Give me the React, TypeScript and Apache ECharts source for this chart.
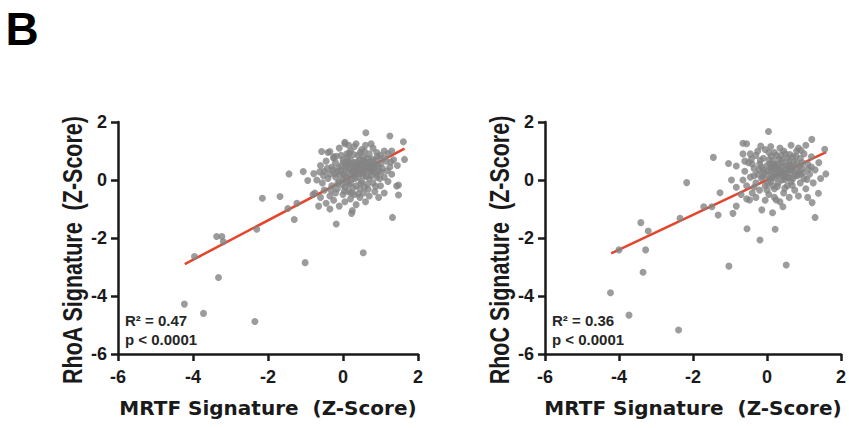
import React, { useEffect, useRef } from 'react';
import * as echarts from 'echarts';

// Axis ticks (both panels share the same scale)
const axisMin = -6;
const axisMax = 2;
const axisStep = 2;

// Panel titles / annotations
const panelLetter = 'B';
const xTitle = 'MRTF Signature  (Z-Score)';
const yTitles = ['RhoA Signature  (Z-Score)', 'RhoC Signature  (Z-Score)'];
const rSquared = ['0.47', '0.36'];
const pText = 'p < 0.0001';

// Regression lines [x, y] end points
const rhoAFit: [number, number][] = [[-4.22, -2.9], [1.64, 1.08]];
const rhoCFit: [number, number][] = [[-4.21, -2.53], [1.6, 0.96]];

// RhoA vs MRTF: scattered points outside the main cluster
const rhoAOutliers: [number, number][] = [
  [-4.23, -4.28], [-3.72, -4.6], [-2.35, -4.88], [-3.32, -3.36], [-3.96, -2.64],
  [-3.37, -1.95], [-3.23, -1.95], [-3.19, -2.13], [-2.3, -1.7], [-2.15, -0.63],
  [-1.68, -0.57], [-1.44, 0.21], [-1.47, -0.98], [-1.3, -1.36], [-1.23, -0.8],
  [-1.01, -2.85], [-1.06, 0.29], [-0.94, -0.02], [-0.18, -1.52], [0.54, -2.51],
  [1.32, -1.29], [1.48, -0.52], [1.43, -0.21], [0.61, 1.63], [1.25, 1.52],
  [1.61, 1.32], [1.64, 0.71], [0.05, 1.3], [0.23, -1.15], [1.48, -0.17],
];

// RhoA vs MRTF: dense cluster
const rhoACluster: [number, number][] = [
  [-0.4, 0.95], [-0.25, 0.8], [-0.1, 1.1], [0.05, 1.25], [0.1, 0.9], [0.2, 1.0], [0.3, 1.15],
  [0.4, 0.85], [0.5, 1.05], [0.6, 1.2], [0.7, 0.9], [0.8, 1.1], [0.9, 0.95], [1.0, 0.85],
  [1.1, 1.0], [1.2, 0.9], [0.35, 1.25], [-0.05, 0.85], [0.15, 1.2], [0.75, 1.25], [1.3, 1.0],
  [0.55, 0.8], [-0.57, 0.98], [-0.35, 0.98],
  [-0.6, 0.5], [-0.5, 0.3], [-0.45, 0.65], [-0.3, 0.45], [-0.2, 0.6], [-0.15, 0.3],
  [-0.05, 0.5], [0.0, 0.7], [0.05, 0.35], [0.1, 0.55], [0.15, 0.25], [0.2, 0.7],
  [0.25, 0.45], [0.3, 0.6], [0.35, 0.3], [0.4, 0.55], [0.45, 0.7], [0.5, 0.4],
  [0.55, 0.6], [0.6, 0.3], [0.65, 0.75], [0.7, 0.5], [0.75, 0.35], [0.8, 0.65],
  [0.85, 0.45], [0.9, 0.7], [0.95, 0.3], [1.0, 0.55], [1.05, 0.4], [1.15, 0.65],
  [1.25, 0.45], [1.35, 0.7], [1.45, 0.5], [-0.35, 0.2], [0.0, 0.2], [0.3, 0.2],
  [0.62, 0.45], [0.12, 0.78], [-0.25, 0.75],
  [-0.7, 0.0], [-0.55, -0.1], [-0.4, 0.05], [-0.3, -0.2], [-0.2, 0.1], [-0.1, -0.05],
  [0.0, 0.0], [0.05, -0.25], [0.1, 0.1], [0.2, -0.1], [0.25, 0.05], [0.35, -0.2],
  [0.4, 0.1], [0.5, -0.05], [0.55, 0.15], [0.65, -0.15], [0.7, 0.05], [0.8, -0.1],
  [0.9, 0.1], [1.0, -0.2], [1.1, 0.1], [1.2, -0.05], [1.3, 0.2], [-0.15, -0.3],
  [0.45, -0.3], [0.15, -0.15], [0.75, 0.15], [-0.78, 0.22], [-0.8, -0.5],
  [-0.75, -0.45], [-0.6, -0.6], [-0.5, -0.35], [-0.45, -0.8], [-0.35, -0.55],
  [-0.25, -0.7], [-0.2, -0.45], [-0.1, -0.9], [0.0, -0.5], [0.05, -0.75], [0.15, -0.4],
  [0.2, -0.65], [0.3, -0.5], [0.35, -0.85], [0.45, -0.6], [0.55, -0.45], [0.6, -0.75],
  [0.7, -0.55], [0.85, -0.4], [0.95, -0.6], [1.1, -0.45], [-0.65, -0.9], [0.25, -1.05],
  [-0.35, -1.0],
  [-0.28, 0.35], [-0.12, 0.42], [0.02, 0.6], [0.08, 0.45], [0.18, 0.38], [0.22, 0.55],
  [0.28, 0.32], [0.38, 0.42], [0.42, 0.22], [0.48, 0.52], [0.58, 0.38], [0.68, 0.62],
  [0.72, 0.28], [0.82, 0.52], [0.88, 0.22], [-0.08, 0.18], [0.12, -0.05], [0.32, 0.05],
  [0.52, 0.25], [0.62, 0.12], [0.78, 0.4], [-0.42, 0.4], [-0.18, 0.82], [0.28, 0.88],
  [0.46, 0.95], [0.92, 0.82], [1.08, 0.75], [-0.02, -0.15], [0.58, -0.25], [0.98, 0.05],
  [-0.22, 0.22], [-0.05, 0.32], [0.07, 0.12], [0.14, 0.62], [0.24, 0.28], [0.33, 0.48],
  [0.43, 0.38], [0.53, 0.68], [0.63, 0.58], [0.73, 0.42], [0.83, 0.28], [0.93, 0.48],
  [0.04, -0.38], [0.27, -0.28], [0.47, -0.12], [0.67, -0.32], [0.87, -0.22], [-0.32, -0.35],
  [-0.52, 0.15], [0.37, 0.62], [0.17, 0.92], [0.57, 1.0], [0.77, 0.72], [1.02, 0.28],
  [1.18, 0.32], [-0.14, -0.12], [0.22, -0.45], [0.41, -0.48], [-0.62, 0.28], [1.28, 0.62],
];

// RhoC vs MRTF: scattered points outside the main cluster
const rhoCOutliers: [number, number][] = [
  [-4.23, -3.89], [-3.73, -4.66], [-2.39, -5.17], [-3.35, -3.18], [-4.0, -2.41],
  [-3.28, -2.41], [-3.21, -1.76], [-3.41, -1.47], [-2.35, -1.32], [-2.17, -0.09],
  [-1.71, -0.92], [-1.49, -0.92], [-1.45, 0.78], [-1.32, -1.21], [-1.03, -2.97],
  [-1.04, 0.57], [-0.92, -1.15], [-0.83, -0.9], [-0.96, 0.0], [-0.54, -1.68],
  [-0.19, -2.07], [-0.14, -1.03], [0.15, -1.13], [0.22, -1.7], [0.52, -2.93],
  [0.43, -0.92], [0.04, 1.67], [1.21, 1.4], [1.56, 1.06], [1.59, 0.21],
  [1.3, -1.29], [1.22, -0.78], [1.39, -0.46], [-0.65, 1.27], [-0.55, 1.25],
  [-0.17, 1.17], [-0.65, 0.9], [-0.83, 0.48], [-0.47, -0.69], [-0.83, -0.25],
  [-1.27, -0.44], [0.25, -0.69],
];

// RhoC vs MRTF: dense cluster
const rhoCCluster: [number, number][] = [
  [-0.6, 0.3], [-0.55, -0.2], [-0.5, 0.6], [-0.45, 0.1], [-0.4, -0.45], [-0.35, 0.4],
  [-0.3, 0.85], [-0.3, -0.1], [-0.25, 0.2], [-0.2, 0.55], [-0.2, -0.35], [-0.15, 0.05],
  [-0.1, 0.35], [-0.1, 0.75], [-0.05, -0.2], [0.0, 0.5], [0.0, 0.15], [0.05, -0.5],
  [0.05, 0.95], [0.1, 0.3], [0.1, -0.05], [0.15, 0.65], [0.15, 0.1], [0.2, 0.4],
  [0.2, -0.3], [0.25, 0.85], [0.25, 0.2], [0.3, 0.55], [0.3, -0.1], [0.35, 0.35],
  [0.35, 1.1], [0.4, 0.0], [0.4, 0.7], [0.45, 0.25], [0.45, -0.45], [0.5, 0.5],
  [0.5, 0.9], [0.55, 0.1], [0.55, -0.2], [0.6, 0.65], [0.6, 0.35], [0.65, 1.2],
  [0.65, -0.05], [0.7, 0.45], [0.7, 0.8], [0.75, 0.15], [0.75, -0.35], [0.8, 0.6],
  [0.8, 1.0], [0.85, 0.25], [0.9, -0.1], [0.9, 0.75], [0.95, 0.4], [1.0, 0.05],
  [1.0, 0.9], [1.05, -0.3], [1.1, 0.55], [1.15, 0.2], [1.2, 0.8], [1.25, -0.1],
  [1.3, 0.35], [1.4, 0.6], [1.45, 0.05], [-0.65, 0.0], [-0.6, 0.65], [-0.45, 0.9],
  [-0.25, 1.0], [-0.05, 1.05], [0.1, 1.15], [0.2, 0.95], [0.45, 1.0], [0.85, 1.1],
  [1.05, 1.2], [-0.7, -0.5], [-0.55, -0.65], [-0.3, -0.6], [-0.05, -0.7], [0.2, -0.6],
  [0.35, -0.75], [0.6, -0.6], [0.85, -0.55], [1.1, -0.6], [0.0, -0.35], [0.15, -0.2],
  [0.3, 0.15], [0.5, 0.2], [0.65, 0.25], [0.8, 0.35], [0.05, 0.7], [0.25, 0.5],
  [0.4, 0.45], [0.55, 0.75], [0.7, 0.05], [0.9, 0.2], [-0.15, 0.45], [-0.35, 0.15],
  [0.12, 0.42], [0.32, 0.72], [0.48, 0.02], [0.62, 0.52], [0.78, 0.82], [0.18, 0.22],
  [0.38, 0.22], [-0.08, 0.25], [0.95, 0.6], [1.2, 0.45], [-0.4, 0.55], [0.28, 0.38],
  [0.58, 0.48], [0.08, 0.55],
  [-0.22, 0.35], [-0.12, 0.12], [0.02, 0.32], [0.08, 0.05], [0.18, 0.55], [0.22, 0.08],
  [0.32, 0.35], [0.42, 0.6], [0.52, 0.35], [0.58, 0.08], [0.68, 0.35], [0.72, 0.62],
  [0.82, 0.15], [0.88, 0.48], [0.98, 0.25], [0.12, 0.82], [0.38, 0.85], [0.62, 0.88],
  [-0.18, 0.68], [0.28, -0.22], [0.48, -0.28], [0.68, -0.18], [-0.35, -0.25], [0.02, -0.12],
  [1.12, 0.38], [1.08, 0.02], [-0.42, 0.72], [0.92, 1.02], [0.15, 0.45], [0.45, 0.12],
];

const AXIS_COLOR = '#1a1a1a';
const DOT_COLOR = '#838383';
const LINE_COLOR = '#e5452b';

function makeXAxis(gridIndex: number) {
  return {
    type: 'value',
    gridIndex,
    min: axisMin,
    max: axisMax,
    interval: axisStep,
    name: xTitle,
    nameLocation: 'middle',
    nameGap: 44,
    nameTextStyle: { fontFamily: 'DejaVu Sans', fontWeight: 'bold', fontSize: 20, color: AXIS_COLOR },
    axisLine: { show: true, onZero: false, lineStyle: { color: AXIS_COLOR, width: 2.5 } },
    axisTick: { show: true, length: 7, lineStyle: { color: AXIS_COLOR, width: 2.5 } },
    axisLabel: { margin: 14, fontFamily: 'Liberation Sans', fontWeight: 'bold', fontSize: 18, color: AXIS_COLOR },
    splitLine: { show: false },
  };
}

function makeYAxis(gridIndex: number) {
  return {
    type: 'value',
    gridIndex,
    min: axisMin,
    max: axisMax,
    interval: axisStep,
    axisLine: { show: true, onZero: false, lineStyle: { color: AXIS_COLOR, width: 2.5 } },
    axisTick: { show: true, length: 7, lineStyle: { color: AXIS_COLOR, width: 2.5 } },
    axisLabel: { margin: 11, fontFamily: 'Liberation Sans', fontWeight: 'bold', fontSize: 18, color: AXIS_COLOR },
    splitLine: { show: false },
  };
}

export default function App() {
  const ref = useRef<HTMLDivElement>(null);

  useEffect(() => {
    if (!ref.current) return;
    const chart = echarts.init(ref.current, undefined, { renderer: 'svg' });
    const panelShift = 427;
    const option: any = {
      animation: false,
      backgroundColor: '#ffffff',
      grid: [
        { left: 118, top: 122, width: 300, height: 232 },
        { left: 545, top: 122, width: 302, height: 232 },
      ],
      xAxis: [makeXAxis(0), makeXAxis(1)],
      yAxis: [makeYAxis(0), makeYAxis(1)],
      series: [
        {
          type: 'line', xAxisIndex: 0, yAxisIndex: 0, data: rhoAFit, symbol: 'none', z: 1,
          lineStyle: { color: LINE_COLOR, width: 2.5 },
        },
        {
          type: 'scatter', xAxisIndex: 0, yAxisIndex: 0, data: [...rhoACluster, ...rhoAOutliers],
          symbolSize: 7, z: 2, itemStyle: { color: DOT_COLOR },
        },
        {
          type: 'line', xAxisIndex: 1, yAxisIndex: 1, data: rhoCFit, symbol: 'none', z: 1,
          lineStyle: { color: LINE_COLOR, width: 2.5 },
        },
        {
          type: 'scatter', xAxisIndex: 1, yAxisIndex: 1, data: [...rhoCCluster, ...rhoCOutliers],
          symbolSize: 7, z: 2, itemStyle: { color: DOT_COLOR },
        },
      ],
      graphic: [
        {
          type: 'text', x: 22, y: 29,
          style: {
            text: panelLetter, fill: '#000', font: 'bold 46px "Liberation Sans"', lineHeight: 50,
            verticalAlign: 'middle', align: 'center',
          },
        },
        ...yTitles.map((t, i) => ({
          type: 'text', x: 73 + i * panelShift, y: 250, rotation: Math.PI / 2, scaleY: 1.25,
          style: { text: t, fill: AXIS_COLOR, font: 'bold 21.5px "Liberation Sans"', align: 'center', verticalAlign: 'middle' },
        })),
        ...rSquared.map((r, i) => ({
          type: 'text', x: 125 + i * panelShift, y: 320.5,
          style: { text: `R² = ${r}`, fill: '#262626', font: 'bold 15px "Liberation Sans"', align: 'left', verticalAlign: 'middle' },
        })),
        ...rSquared.map((_, i) => ({
          type: 'text', x: 125 + i * panelShift, y: 339.5,
          style: { text: pText, fill: '#262626', font: 'bold 15px "Liberation Sans"', align: 'left', verticalAlign: 'middle' },
        })),
      ],
    };
    chart.setOption(option);
    return () => chart.dispose();
  }, []);

  return (
    <div
      ref={ref}
      style={{ position: 'fixed', left: 0, top: 0, width: 849, height: 428, background: '#fff' }}
    />
  );
}
